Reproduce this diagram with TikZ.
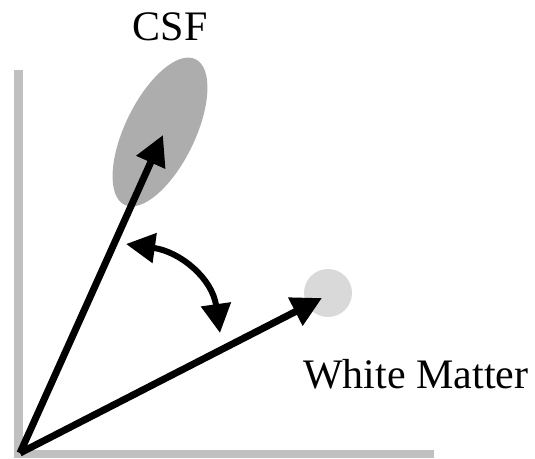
\documentclass[tikz,border=0pt]{standalone}
\usepackage{fontspec}
\setmainfont{Liberation Serif}
\usetikzlibrary{arrows.meta,shapes.geometric}
\definecolor{axisgray}{HTML}{C0C0C0}
\definecolor{csfgray}{HTML}{ADADAD}
\definecolor{wmgray}{HTML}{D9D9D9}
\begin{document}
\begin{tikzpicture}[x=1pt,y=1pt,
  axisbar/.style={fill=axisgray, draw=none},
  vecarrow/.style={line width=7pt, -{Triangle[length=30pt,width=30pt]}},
  anglearrow/.style={line width=6pt, {Triangle[length=29pt,width=29pt]}-{Triangle[length=29pt,width=29pt]}},
  lbl/.style={inner sep=0pt, font=\fontsize{42}{48}\selectfont}]
\useasboundingbox (0,0) rectangle (535,458);
% axes
\fill[axisbar] (14,0) rectangle (23,388);
\fill[axisbar] (14,0) rectangle (434,8);
% clusters
\node[ellipse, fill=csfgray, draw=none, minimum width=162pt, minimum height=70pt, inner sep=0pt, rotate=64] (csf) at (160,326) {};
\node[circle, fill=wmgray, draw=none, minimum size=48pt, inner sep=0pt] (wm) at (328,165) {};
% vectors
\coordinate (O) at (20,5);
\coordinate (A) at (163,323);
\coordinate (B) at (322,160);
\draw[vecarrow] (O) -- (A);
\draw[vecarrow] (O) -- (B);
% angle arrow
\coordinate (P0) at (126,214);
\coordinate (P3) at (220,125);
\draw[anglearrow] (P0) .. controls (180.5,206.3) and (212.3,179.5) .. (P3);
% labels
\node[lbl, anchor=base] (csflbl) at (170,417) {CSF};
\node[lbl, anchor=base west] (wmlbl) at (303,70) {White Matter};
\end{tikzpicture}
\end{document}
